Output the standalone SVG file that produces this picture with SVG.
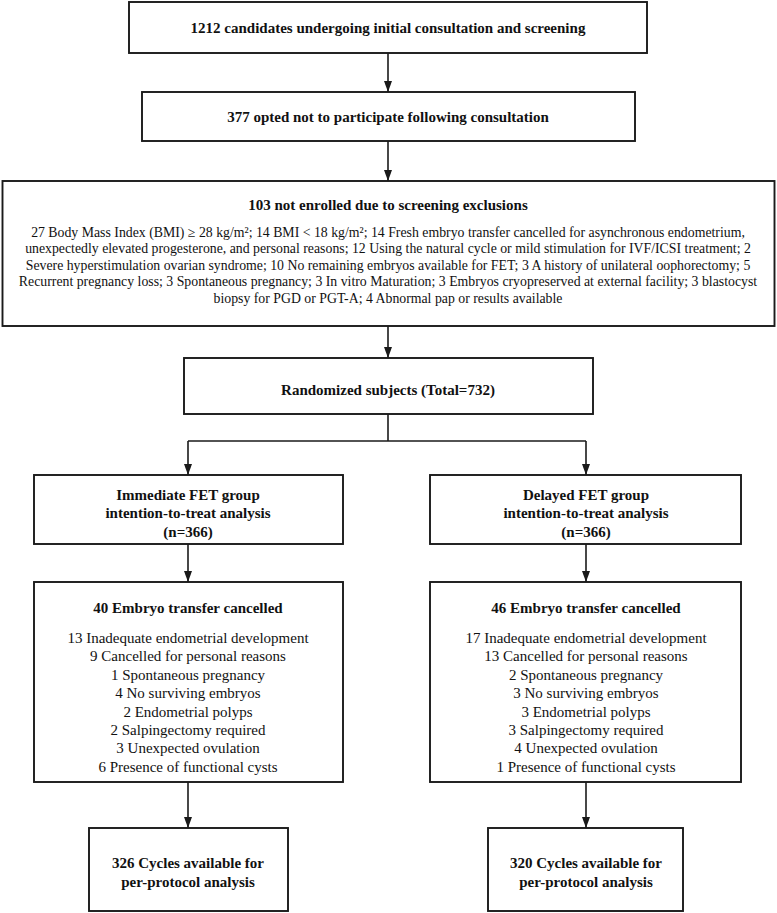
<svg xmlns="http://www.w3.org/2000/svg" width="777" height="913" viewBox="0 0 777 913">
<style>
.box{fill:#fff;stroke:#1a1a1a;stroke-width:1.9}
.t{font-family:"Liberation Serif","Times New Roman",serif;fill:#111;text-anchor:middle}
.b{font-weight:bold;font-size:15px}
.r{font-size:15px}
.s{font-size:13.8px}
.ln{fill:none;stroke:#1a1a1a;stroke-width:1.6}
</style>
<defs>
<marker id="ah" viewBox="0 0 11 8" refX="11" refY="4" markerWidth="11" markerHeight="8" markerUnits="userSpaceOnUse" orient="auto">
<path d="M0,0 L11,4 L0,8 z" fill="#1a1a1a"/>
</marker>
</defs>
<rect width="777" height="913" fill="#fff"/>
<g id="connectors">
<line class="ln" x1="388" y1="53" x2="388" y2="92" marker-end="url(#ah)"/>
<line class="ln" x1="388" y1="141" x2="388" y2="181" marker-end="url(#ah)"/>
<line class="ln" x1="388" y1="326" x2="388" y2="358" marker-end="url(#ah)"/>
<polyline class="ln" points="388,414 388,441"/>
<polyline class="ln" points="188,441 586,441"/>
<line class="ln" x1="188" y1="441" x2="188" y2="475" marker-end="url(#ah)"/>
<line class="ln" x1="586" y1="441" x2="586" y2="475" marker-end="url(#ah)"/>
<line class="ln" x1="188" y1="544" x2="188" y2="582" marker-end="url(#ah)"/>
<line class="ln" x1="586" y1="544" x2="586" y2="582" marker-end="url(#ah)"/>
<line class="ln" x1="188" y1="782" x2="188" y2="828" marker-end="url(#ah)"/>
<line class="ln" x1="586" y1="782" x2="586" y2="828" marker-end="url(#ah)"/>
</g>
<g id="n1">
<rect class="box" x="129" y="2" width="518" height="51"/>
<text class="t b" x="388" y="33">1212 candidates undergoing initial consultation and screening</text>
</g>
<g id="n2">
<rect class="box" x="142" y="92" width="493" height="49"/>
<text class="t b" x="388" y="122">377 opted not to participate following consultation</text>
</g>
<g id="n3">
<rect class="box" x="2.5" y="181" width="772" height="145"/>
<text class="t b" x="388" y="210">103 not enrolled due to screening exclusions</text>
<text class="t s" x="388" y="236.5">27 Body Mass Index (BMI) ≥ 28 kg/m²; 14 BMI &lt; 18 kg/m²; 14 Fresh embryo transfer cancelled for asynchronous endometrium,</text>
<text class="t s" x="388" y="253">unexpectedly elevated progesterone, and personal reasons; 12 Using the natural cycle or mild stimulation for IVF/ICSI treatment; 2</text>
<text class="t s" x="388" y="269.5">Severe hyperstimulation ovarian syndrome; 10 No remaining embryos available for FET; 3 A history of unilateral oophorectomy; 5</text>
<text class="t s" x="388" y="286">Recurrent pregnancy loss; 3 Spontaneous pregnancy; 3 In vitro Maturation; 3 Embryos cryopreserved at external facility; 3 blastocyst</text>
<text class="t s" x="388" y="302.5">biopsy for PGD or PGT-A; 4 Abnormal pap or results available</text>
</g>
<g id="n4">
<rect class="box" x="184" y="358" width="409" height="56"/>
<text class="t b" x="388" y="395">Randomized subjects (Total=732)</text>
</g>
<g id="n5">
<rect class="box" x="34" y="475" width="309" height="69"/>
<text class="t b" x="188" y="500">Immediate FET group</text>
<text class="t b" x="188" y="518">intention-to-treat analysis</text>
<text class="t b" x="188" y="537">(n=366)</text>
</g>
<g id="n6">
<rect class="box" x="430" y="475" width="311" height="69"/>
<text class="t b" x="586" y="500">Delayed FET group</text>
<text class="t b" x="586" y="518">intention-to-treat analysis</text>
<text class="t b" x="586" y="537">(n=366)</text>
</g>
<g id="n7">
<rect class="box" x="34" y="582" width="309" height="200"/>
<text class="t b" x="188" y="613">40 Embryo transfer cancelled</text>
<text class="t r" x="188" y="643">13 Inadequate endometrial development</text>
<text class="t r" x="188" y="661.4">9 Cancelled for personal reasons</text>
<text class="t r" x="188" y="679.8">1 Spontaneous pregnancy</text>
<text class="t r" x="188" y="698.2">4 No surviving embryos</text>
<text class="t r" x="188" y="716.6">2 Endometrial polyps</text>
<text class="t r" x="188" y="735">2 Salpingectomy required</text>
<text class="t r" x="188" y="753.4">3 Unexpected ovulation</text>
<text class="t r" x="188" y="771.8">6 Presence of functional cysts</text>
</g>
<g id="n8">
<rect class="box" x="430" y="582" width="311" height="200"/>
<text class="t b" x="586" y="613">46 Embryo transfer cancelled</text>
<text class="t r" x="586" y="643">17 Inadequate endometrial development</text>
<text class="t r" x="586" y="661.4">13 Cancelled for personal reasons</text>
<text class="t r" x="586" y="679.8">2 Spontaneous pregnancy</text>
<text class="t r" x="586" y="698.2">3 No surviving embryos</text>
<text class="t r" x="586" y="716.6">3 Endometrial polyps</text>
<text class="t r" x="586" y="735">3 Salpingectomy required</text>
<text class="t r" x="586" y="753.4">4 Unexpected ovulation</text>
<text class="t r" x="586" y="771.8">1 Presence of functional cysts</text>
</g>
<g id="n9">
<rect class="box" x="89" y="828" width="199" height="83"/>
<text class="t b" x="188" y="868">326 Cycles available for</text>
<text class="t b" x="188" y="887">per-protocol analysis</text>
</g>
<g id="n10">
<rect class="box" x="488" y="828" width="195" height="83"/>
<text class="t b" x="586" y="868">320 Cycles available for</text>
<text class="t b" x="586" y="887">per-protocol analysis</text>
</g>
</svg>
